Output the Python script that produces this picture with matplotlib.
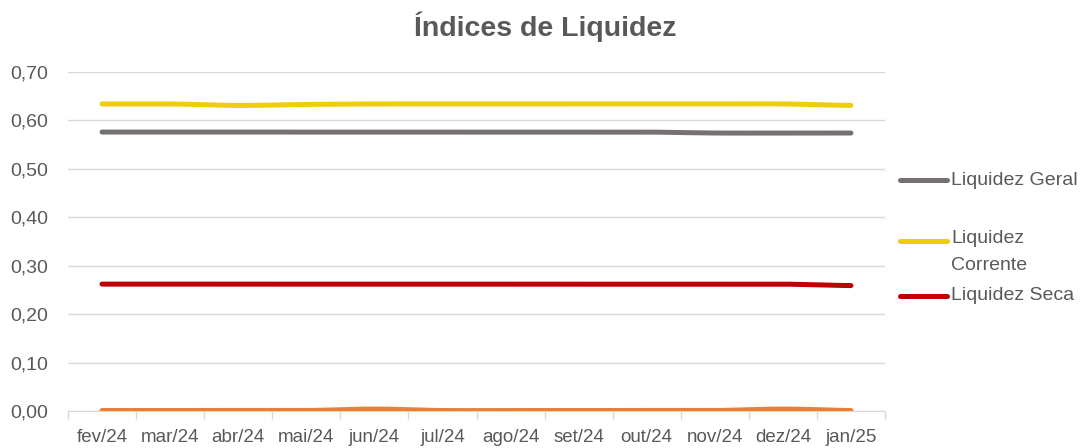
import numpy as np
import matplotlib
matplotlib.use("Agg")
import matplotlib.pyplot as plt
from matplotlib.lines import Line2D

plt.rcParams['font.family'] = ['Liberation Sans', 'DejaVu Sans']

meses = ['fev/24', 'mar/24', 'abr/24', 'mai/24', 'jun/24', 'jul/24',
         'ago/24', 'set/24', 'out/24', 'nov/24', 'dez/24', 'jan/25']

liq_geral = [0.576, 0.576, 0.576, 0.576, 0.576, 0.576, 0.576, 0.576, 0.576, 0.574, 0.574, 0.574]
liq_corrente = [0.634, 0.634, 0.631, 0.633, 0.634, 0.634, 0.634, 0.634, 0.634, 0.634, 0.634, 0.631]
liq_seca = [0.262, 0.262, 0.262, 0.262, 0.262, 0.262, 0.262, 0.262, 0.262, 0.262, 0.262, 0.259]
liq_imediata = [0.001, 0.001, 0.001, 0.001, 0.004, 0.001, 0.001, 0.001, 0.001, 0.001, 0.004, 0.001]

cor_texto = '#595959'
cor_grade = '#d9d9d9'


def suavizar(y, n=20):
    # curva suave tipo Excel (Catmull-Rom)
    y = np.asarray(y, dtype=float)
    pts = np.concatenate([[y[0]], y, [y[-1]]])
    xs, ys = [], []
    for i in range(1, len(pts) - 2):
        p0, p1, p2, p3 = pts[i - 1], pts[i], pts[i + 1], pts[i + 2]
        t = np.linspace(0, 1, n, endpoint=False)
        v = 0.5 * ((2 * p1) + (-p0 + p2) * t + (2 * p0 - 5 * p1 + 4 * p2 - p3) * t ** 2
                   + (-p0 + 3 * p1 - 3 * p2 + p3) * t ** 3)
        xs.extend(i - 1 + t)
        ys.extend(v)
    xs.append(len(y) - 1)
    ys.append(y[-1])
    return np.array(xs), np.array(ys)


W, H = 1090, 448
fig = plt.figure(figsize=(W / 100, H / 100), dpi=100)
ax = fig.add_axes([68 / W, 1 - 411 / H, 817 / W, 339 / H])

series = [
    (liq_geral, '#767171', 'Liquidez Geral'),
    (liq_corrente, '#EDCD0C', 'Liquidez\nCorrente'),
    (liq_seca, '#C00000', 'Liquidez Seca'),
    (liq_imediata, '#ED7D31', None),
]
for vals, cor, nome in series:
    xs, ys = suavizar(vals)
    ax.plot(xs, ys, color=cor, lw=3.6, solid_capstyle='round', zorder=3)

ax.set_xlim(-0.5, len(meses) - 0.5)
ax.set_ylim(0, 0.7)
ax.set_yticks(np.arange(0, 0.71, 0.1))
ax.set_yticklabels([f'{v:.2f}'.replace('.', ',') for v in np.arange(0, 0.71, 0.1)])
ax.set_xticks(range(len(meses)))
ax.set_xticklabels(meses)
ax.set_xticks(np.arange(-0.5, len(meses), 1), minor=True)

ax.tick_params(axis='x', which='major', length=0, pad=13, labelsize=13.5, colors=cor_texto)
ax.tick_params(axis='x', which='minor', length=6, color=cor_grade, width=1)
ax.tick_params(axis='y', length=0, pad=14, labelsize=14, colors=cor_texto)

ax.grid(axis='y', color=cor_grade, lw=1)
ax.set_axisbelow(True)
for s in ['top', 'right', 'left']:
    ax.spines[s].set_visible(False)
ax.spines['bottom'].set_color(cor_grade)

fig.suptitle('Índices de Liquidez', x=0.5, y=0.975, fontsize=20.5, fontweight='bold',
             color=cor_texto)

# legenda desenhada à mão (só as três primeiras séries, como no original)
leg_y = [180, 241, 296]
for (vals, cor, nome), yy in zip(series[:3], leg_y):
    yf = 1 - yy / H
    fig.add_artist(Line2D([900 / W, 947 / W], [yf, yf], color=cor, lw=3.6,
                          solid_capstyle='round', transform=fig.transFigure))
    if '\n' in nome:
        fig.text(951 / W, 1 - (yy - 11) / H, nome, ha='left', va='top',
                 fontsize=14, color=cor_texto, linespacing=1.75)
    else:
        fig.text(951 / W, yf, nome, ha='left', va='center',
                 fontsize=14, color=cor_texto)

fig.savefig('out.png', dpi=100)
